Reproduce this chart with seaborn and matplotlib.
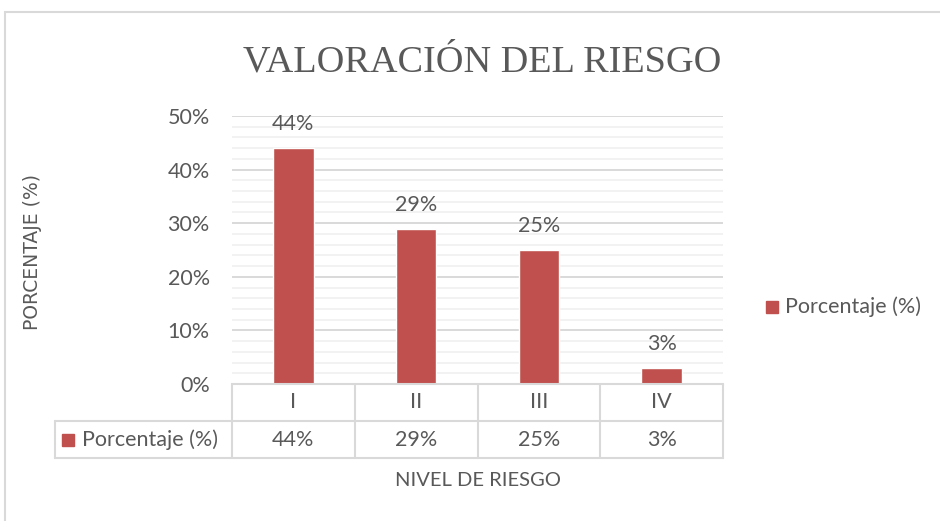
import matplotlib
matplotlib.use("Agg")
import matplotlib.pyplot as plt
import matplotlib.patches as mpatches
from matplotlib.ticker import MultipleLocator, PercentFormatter
import pandas as pd
import seaborn as sns

# ── data ────────────────────────────────────────────────────────────────
niveles = ["I", "II", "III", "IV"]
porcentaje = [0.44, 0.29, 0.25, 0.03]
etiquetas = ["44%", "29%", "25%", "3%"]
serie = "Porcentaje (%)"

BAR = "#C0504D"
TXT = "#595959"
GRID = "#D9D9D9"
MINOR = "#F0F0F0"
FS = 15.5

sns.set_theme(style="white")
plt.rcParams["font.family"] = ["Lato", "DejaVu Sans"]

df = pd.DataFrame({"nivel": niveles, "valor": porcentaje})

fig = plt.figure(figsize=(9.4, 5.21), dpi=100)
ax = fig.add_axes([232 / 940, 1 - 384 / 521, 491 / 940, 268 / 521])

sns.barplot(data=df, x="nivel", y="valor", color=BAR, width=0.33,
            saturation=1, ax=ax)

ax.set_ylim(0, 0.5)
ax.set_xlim(-0.5, len(niveles) - 0.5)
ax.yaxis.set_major_locator(MultipleLocator(0.1))
ax.yaxis.set_minor_locator(MultipleLocator(0.02))
ax.yaxis.set_major_formatter(PercentFormatter(1.0, decimals=0))
ax.grid(axis="y", which="minor", color=MINOR, lw=1.2)
ax.grid(axis="y", which="major", color=GRID, lw=1.4)
ax.set_axisbelow(True)
for s in ax.spines.values():
    s.set_visible(False)
ax.tick_params(axis="y", which="both", length=0, pad=16, labelsize=FS,
               labelcolor=TXT)
ax.set_xticks([])
ax.set_xlabel("")
ax.set_ylabel("")

ax.bar_label(ax.containers[0], labels=etiquetas, padding=10, fontsize=FS,
             color=TXT)

# ── data table under the plot ───────────────────────────────────────────
tr = ax.get_xaxis_transform()
row_h = 37 / 268
left = -0.5 - (232 - 55) / 491 * len(niveles)
lw = 1.5
kw = dict(color=GRID, lw=lw, transform=tr, clip_on=False)
# horizontal lines
ax.plot([-0.5, 3.5], [0, 0], **kw)
ax.plot([left, 3.5], [-row_h, -row_h], **kw)
ax.plot([left, 3.5], [-2 * row_h, -2 * row_h], **kw)
# vertical lines
for xb in [-0.5, 0.5, 1.5, 2.5, 3.5]:
    ax.plot([xb, xb], [0, -2 * row_h], **kw)
ax.plot([left, left], [-row_h, -2 * row_h], **kw)

for i, (n, e) in enumerate(zip(niveles, etiquetas)):
    ax.text(i, -row_h / 2, n, transform=tr, ha="center", va="center",
            fontsize=FS, color=TXT)
    ax.text(i, -1.5 * row_h, e, transform=tr, ha="center", va="center",
            fontsize=FS, color=TXT)

# legend key inside the table
key_x = left + (62 - 55) / 491 * len(niveles)
key_w = 12 / 491 * len(niveles)
key_h = 12 / 268
ax.add_patch(mpatches.Rectangle((key_x, -1.5 * row_h - key_h / 2), key_w, key_h,
                                transform=tr, color=BAR, clip_on=False))
ax.text(left + (82 - 55) / 491 * len(niveles), -1.5 * row_h, serie,
        transform=tr, ha="left", va="center", fontsize=FS, color=TXT)

# ── titles / labels ─────────────────────────────────────────────────────
fig.text(482 / 940, 1 - 62 / 521, "VALORACIÓN DEL RIESGO", ha="center",
         va="center", fontsize=27.5, color=TXT, family="Liberation Serif")
fig.text(33 / 940, 1 - 252 / 521, "PORCENTAJE (%)", rotation=90, ha="center",
         va="center", fontsize=13.5, color=TXT, family="DejaVu Sans")
fig.text(478 / 940, 1 - 480 / 521, "NIVEL DE RIESGO", ha="center",
         va="center", fontsize=14.5, color=TXT)

# legend on the right
fig.patches.append(mpatches.Rectangle((766 / 940, 1 - 313 / 521), 12 / 940,
                                      12 / 521, transform=fig.transFigure,
                                      color=BAR))
fig.text(785 / 940, 1 - 307 / 521, serie, ha="left", va="center",
         fontsize=FS, color=TXT)

# chart border
fig.patches.append(mpatches.Rectangle((5 / 940, -0.02), 1.0, 1 - 12 / 521 + 0.02,
                                      transform=fig.transFigure, fill=False,
                                      edgecolor=GRID, lw=1.5))

fig.savefig("out.png", dpi=100)
